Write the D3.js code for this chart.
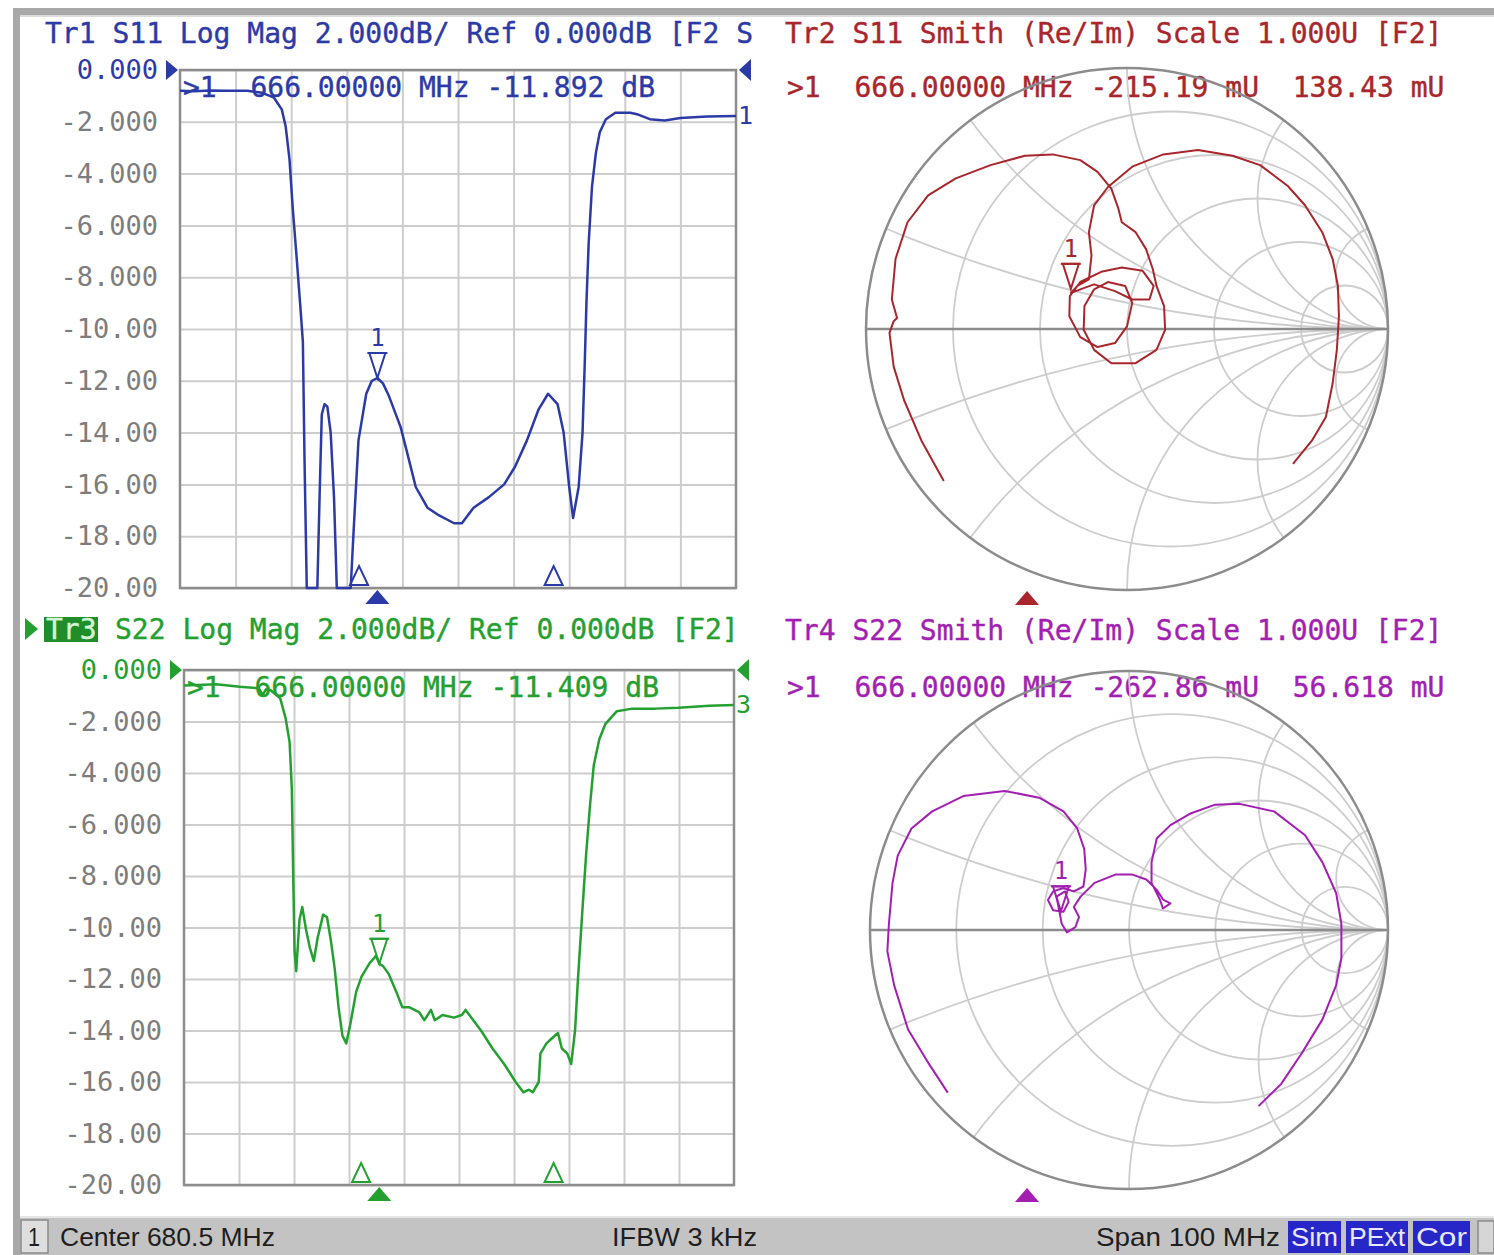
<!DOCTYPE html>
<html>
<head>
<meta charset="utf-8">
<script src="https://cdn.jsdelivr.net/npm/d3@7"></script>
<style>
  body { margin: 0; background: #fff; }
  #main-frame { width: 1494px; height: 1255px; }
  svg text { font-family: "DejaVu Sans Mono", monospace; }
</style>
</head>
<body>
<div id="main-frame"></div>
<script>
// channel settings
var centerMHz = 680.5;
var spanMHz = 100;
var ifbwLabel = "IFBW 3 kHz";
var statusFlags = ["Sim", "PExt", "Cor"];

var dbTicks = [0, -2, -4, -6, -8, -10, -12, -14, -16, -18, -20];
var dbTickLabels = ["0.000", "-2.000", "-4.000", "-6.000", "-8.000", "-10.00",
  "-12.00", "-14.00", "-16.00", "-18.00", "-20.00"];

var smithR = [0.2, 0.5, 1, 2, 5];
var smithX = [0.2, 0.5, 1, 2, 5];

// marker 1 and the two open reference markers
var markerFreq = 666.0;
var refMarkerFreqs = [662.7, 697.7];

// Tr1 S11 log mag
var tr1Freq = [630.5, 633.0, 636.0, 639.0, 642.6, 645.3, 647.4, 648.8, 649.5, 650.2, 650.8, 651.5,
  652.2, 652.6, 652.9, 653.3, 655.2, 655.6, 656.0, 656.5, 657.0, 657.6, 658.2, 658.7, 661.2,
  661.7, 662.6, 664.0, 665.0, 666.0, 667.0, 668.1, 670.2, 671.5, 672.9, 675.0, 677.1, 679.8,
  681.2, 683.3, 686.0, 688.8, 690.8, 692.9, 695.0, 696.7, 698.4, 699.5, 700.5, 701.2, 702.2,
  702.9, 703.3, 703.6, 704.0, 704.6, 705.3, 706.0, 707.1, 708.8, 711.5, 712.9, 715.0, 717.7,
  720.5, 725.3, 730.5];
var tr1Db = [-0.80, -0.82, -0.79, -0.80, -0.80, -0.88, -1.07, -1.52, -2.17, -3.46, -5.4, -7.3,
  -9.3, -10.5, -15.1, -21, -21, -16.5, -13.3, -12.9, -13.0, -14.0, -16.5, -21, -21,
  -17.9, -14.3, -12.5, -12.0, -11.892, -12.1, -12.6, -13.8, -14.9, -16.1, -16.9, -17.2, -17.5,
  -17.5, -16.9, -16.5, -16.0, -15.3, -14.3, -13.1, -12.5, -12.9, -14.0, -16.1, -17.3, -16.1,
  -14.0, -11.3, -9.0, -6.7, -4.5, -3.2, -2.4, -1.9, -1.65, -1.65, -1.72, -1.9, -1.95,
  -1.85, -1.8, -1.78];

// Tr3 S22 log mag
var tr3Freq = [630.5, 633.0, 636.4, 640.6, 644.1, 644.8, 645.4, 646.2, 648.0, 649.0, 649.7, 650.1,
  650.4, 650.6, 650.9, 651.5, 652.0, 652.7, 653.4, 654.1, 654.8, 655.8, 656.5, 657.2, 657.9,
  658.6, 659.3, 660.0, 660.7, 661.8, 662.8, 664.2, 665.4, 666.0, 666.7, 667.7, 669.1, 670.2,
  671.5, 673.3, 674.2, 675.4, 676.1, 677.5, 679.6, 681.0, 681.7, 683.1, 684.5, 686.6, 688.7,
  690.8, 692.2, 693.2, 693.9, 695.0, 695.3, 696.4, 697.4, 698.5, 699.2, 700.2, 700.9, 701.6,
  702.1, 702.7, 703.1, 703.6, 704.3, 705.0, 706.0, 707.1, 709.2, 712.0, 716.2, 720.4, 726.0,
  730.5];
var tr3Db = [-0.6, -0.58, -0.55, -0.65, -0.71, -0.97, -0.75, -0.78, -1.1, -1.9, -2.8, -4.6,
  -8.5, -10.9, -11.7, -9.7, -9.2, -10.1, -10.8, -11.3, -10.4, -9.5, -9.6, -10.5, -11.6,
  -13.1, -14.2, -14.5, -13.8, -12.5, -11.9, -11.4, -11.1, -11.409, -11.5, -11.8, -12.5, -13.1,
  -13.1, -13.3, -13.6, -13.2, -13.6, -13.4, -13.5, -13.4, -13.2, -13.6, -14.0, -14.7, -15.3,
  -16.0, -16.4, -16.3, -16.4, -16.0, -14.9, -14.5, -14.3, -14.1, -14.7, -14.9, -15.3, -14.0,
  -12.1, -10.1, -8.8, -7.2, -5.3, -3.7, -2.7, -2.1, -1.6, -1.5, -1.5, -1.47, -1.39,
  -1.36];

// Tr2 S11 smith (real / imag)
var tr2Re = [-0.702, -0.788, -0.854, -0.894, -0.910, -0.894, -0.881, -0.901, -0.887, -0.841, -0.762,
  -0.656, -0.523, -0.391, -0.285, -0.179, -0.113, -0.060, -0.033, -0.020, 0.033, 0.073, 0.099,
  0.113, 0.142, 0.146, 0.113, 0.033, -0.060, -0.126, -0.166, -0.163, -0.126, -0.073, -0.007,
  0.020, 0.000, -0.046, -0.113, -0.179, -0.221, -0.219, -0.179, -0.099, -0.020, 0.060, 0.102,
  0.086, 0.020, -0.046, -0.126, -0.179, -0.215, -0.190, -0.146, -0.136, -0.146, -0.126, -0.073,
  0.020, 0.139, 0.272, 0.404, 0.510, 0.616, 0.682, 0.748, 0.788, 0.808, 0.812, 0.804, 0.788,
  0.762, 0.709, 0.636];
var tr2Im = [-0.582, -0.427, -0.273, -0.144, -0.015, 0.030, 0.042, 0.113, 0.268, 0.409, 0.512,
  0.577, 0.628, 0.664, 0.669, 0.647, 0.602, 0.538, 0.461, 0.409, 0.371, 0.306, 0.229,
  0.165, 0.088, -0.003, -0.080, -0.131, -0.131, -0.080, -0.003, 0.088, 0.152, 0.180, 0.165,
  0.100, 0.010, -0.054, -0.069, -0.031, 0.049, 0.126, 0.180, 0.219, 0.236, 0.223, 0.165,
  0.113, 0.113, 0.145, 0.171, 0.152, 0.138, 0.165, 0.190, 0.281, 0.371, 0.474, 0.544,
  0.622, 0.669, 0.686, 0.664, 0.628, 0.548, 0.474, 0.371, 0.268, 0.165, 0.049, -0.080, -0.208,
  -0.337, -0.427, -0.517];
var tr2Marker = [-0.21519, 0.13843];

// Tr4 S22 smith (real / imag)
var tr4Re = [-0.700, -0.773, -0.853, -0.907, -0.933, -0.927, -0.913, -0.893, -0.840, -0.760, -0.640,
  -0.480, -0.347, -0.253, -0.200, -0.173, -0.167, -0.176, -0.213, -0.253, -0.293, -0.313, -0.293,
  -0.253, -0.233, -0.247, -0.280, -0.267, -0.260, -0.240, -0.207, -0.193, -0.213, -0.187, -0.133,
  -0.053, 0.013, 0.067, 0.107, 0.133, 0.160, 0.131, 0.120, 0.087, 0.087, 0.107, 0.160, 0.240,
  0.333, 0.427, 0.560, 0.680, 0.747, 0.800, 0.820, 0.820, 0.800, 0.747, 0.667, 0.587, 0.500];
var tr4Im = [-0.628, -0.516, -0.384, -0.213, -0.082, 0.024, 0.182, 0.287, 0.392, 0.458, 0.517,
  0.537, 0.511, 0.458, 0.392, 0.313, 0.234, 0.168, 0.149, 0.162, 0.149, 0.116, 0.076,
  0.070, 0.109, 0.149, 0.129, 0.063, 0.024, -0.009, 0.011, 0.050, 0.089, 0.129, 0.182,
  0.214, 0.214, 0.195, 0.155, 0.116, 0.103, 0.083, 0.116, 0.182, 0.261, 0.353, 0.405, 0.451,
  0.484, 0.487, 0.458, 0.366, 0.261, 0.142, 0.024, -0.108, -0.213, -0.345, -0.476, -0.595, -0.680];
var tr4Marker = [-0.26286, 0.056618];

var mainSVG;
var gridColor = "#cdcdcd";
var borderColor = "#8c8c8c";

function startMHz() { return centerMHz - spanMHz / 2; }
function stopMHz() { return centerMHz + spanMHz / 2; }

function addText(x, y, txt, color, size, anchor) {
  return mainSVG.append("text")
    .attr("x", x)
    .attr("y", y)
    .attr("fill", color)
    .attr("stroke", color)
    .attr("stroke-width", 0.4)
    .attr("font-size", size)
    .attr("text-anchor", anchor || "start")
    .style("white-space", "pre")
    .attr("xml:space", "preserve")
    .text(txt);
}

// open marker triangle pointing down, tip on the trace
function markerDown(g, x, y, color) {
  g.append("path")
    .attr("d", "M" + (x - 8) + "," + (y - 25) + "L" + (x + 8) + "," + (y - 25) + "L" + x + "," + y + "Z")
    .attr("fill", "none").attr("stroke", color).attr("stroke-width", 2);
  g.append("line")
    .attr("x1", x - 10).attr("x2", x + 10).attr("y1", y - 25).attr("y2", y - 25)
    .attr("stroke", color).attr("stroke-width", 2);
  g.append("text")
    .attr("x", x).attr("y", y - 32)
    .attr("text-anchor", "middle").attr("font-size", 24).attr("fill", color)
    .text("1");
}

function stimTriangle(x, y, color) {
  mainSVG.append("path")
    .attr("d", "M" + (x - 12) + "," + (y + 14) + "L" + (x + 12) + "," + (y + 14) + "L" + x + "," + y + "Z")
    .attr("fill", color);
}

function drawLogMag(p) {
  var x = d3.scaleLinear().domain([startMHz(), stopMHz()]).range([p.x0, p.x1]);
  var y = d3.scaleLinear().domain([-20, 0]).range([p.y1, p.y0]).clamp(true);
  var w = p.x1 - p.x0, h = p.y1 - p.y0;
  var g = mainSVG.append("g");

  var freqGrid = d3.range(1, 10).map(function(i) { return startMHz() + i * spanMHz / 10; });
  var xa = g.append("g")
    .attr("transform", "translate(0," + p.y1 + ")")
    .call(d3.axisBottom(x).tickValues(freqGrid).tickSize(-h).tickFormat(""));
  xa.select(".domain").remove();
  xa.selectAll("line").attr("stroke", gridColor).attr("stroke-width", 2);

  var ya = g.append("g")
    .attr("transform", "translate(" + p.x0 + ",0)")
    .call(d3.axisLeft(y).tickValues(dbTicks).tickSize(-w).tickPadding(22)
      .tickFormat(function(d, i) { return dbTickLabels[i]; }));
  ya.attr("font-size", 27).attr("font-family", "DejaVu Sans Mono");
  ya.select(".domain").remove();
  ya.selectAll("line").attr("stroke", gridColor).attr("stroke-width", 2);
  ya.selectAll("text").attr("fill", "#7d7d7d");
  ya.selectAll("text").filter(function(d) { return d === 0; }).attr("fill", p.color);

  g.append("rect")
    .attr("x", p.x0).attr("y", p.y0).attr("width", w).attr("height", h)
    .attr("fill", "none").attr("stroke", borderColor).attr("stroke-width", 2.5);

  // reference level arrows
  g.append("path")
    .attr("d", "M" + (p.x0 - 14) + "," + (p.y0 - 10) + "L" + (p.x0 - 2) + "," + p.y0 + "L" + (p.x0 - 14) + "," + (p.y0 + 10) + "Z")
    .attr("fill", p.color);
  g.append("path")
    .attr("d", "M" + (p.x1 + 15) + "," + (p.y0 - 11) + "L" + (p.x1 + 3) + "," + p.y0 + "L" + (p.x1 + 15) + "," + (p.y0 + 11) + "Z")
    .attr("fill", p.color);

  // readout under the trace
  addText(p.x0 + 3, p.y0 + 27, ">1  666.00000 MHz " + p.markerDb.toFixed(3) + " dB", p.color, 28);

  var line = d3.line()
    .x(function(d, i) { return x(p.freq[i]); })
    .y(function(d) { return y(d); });
  g.append("path")
    .datum(p.db)
    .attr("d", line)
    .attr("fill", "none")
    .attr("stroke", p.color)
    .attr("stroke-width", 2.5)
    .attr("stroke-linejoin", "round");

  // end-of-trace label
  var last = p.db[p.db.length - 1];
  g.append("text")
    .attr("x", p.x1 + 2).attr("y", y(last) + 8)
    .attr("font-size", 25).attr("fill", p.color)
    .text(p.traceNo);

  // open reference markers at the bottom
  refMarkerFreqs.forEach(function(f) {
    var mx = x(f);
    g.append("path")
      .attr("d", "M" + (mx - 9) + "," + (p.y1 - 3) + "L" + (mx + 9) + "," + (p.y1 - 3) + "L" + mx + "," + (p.y1 - 22) + "Z")
      .attr("fill", "none").attr("stroke", p.color).attr("stroke-width", 2);
  });

  markerDown(g, x(markerFreq), y(p.markerDb), p.color);
  stimTriangle(x(markerFreq), p.y1 + 2, p.color);
}

function drawSmith(p) {
  var sx = d3.scaleLinear().domain([-1, 1]).range([p.cx - p.R, p.cx + p.R]);
  var sy = d3.scaleLinear().domain([-1, 1]).range([p.cy + p.R, p.cy - p.R]);
  var g = mainSVG.append("g");

  mainSVG.append("defs").append("clipPath").attr("id", p.id + "-clip")
    .append("circle").attr("cx", p.cx).attr("cy", p.cy).attr("r", p.R);

  var grid = g.append("g").attr("clip-path", "url(#" + p.id + "-clip)");
  smithR.forEach(function(r) {
    grid.append("circle")
      .attr("cx", sx(r / (1 + r))).attr("cy", p.cy).attr("r", p.R / (1 + r))
      .attr("fill", "none").attr("stroke", gridColor).attr("stroke-width", 1.8);
  });
  smithX.forEach(function(xv) {
    [1, -1].forEach(function(sg) {
      grid.append("circle")
        .attr("cx", sx(1)).attr("cy", sy(sg / xv)).attr("r", p.R / xv)
        .attr("fill", "none").attr("stroke", gridColor).attr("stroke-width", 1.8);
    });
  });

  g.append("circle")
    .attr("cx", p.cx).attr("cy", p.cy).attr("r", p.R)
    .attr("fill", "none").attr("stroke", borderColor).attr("stroke-width", 2.5);
  g.append("line")
    .attr("x1", sx(-1)).attr("x2", sx(1)).attr("y1", p.cy).attr("y2", p.cy)
    .attr("stroke", borderColor).attr("stroke-width", 2.5);

  var line = d3.line()
    .x(function(d, i) { return sx(d); })
    .y(function(d, i) { return sy(p.im[i]); });
  g.append("path")
    .datum(p.re)
    .attr("d", line)
    .attr("fill", "none")
    .attr("stroke", p.color)
    .attr("stroke-width", 2)
    .attr("stroke-linejoin", "round");

  markerDown(g, sx(p.marker[0]), sy(p.marker[1]) - 4, p.color);

  var stim = d3.scaleLinear().domain([startMHz(), stopMHz()]).range([770, 1494]);
  stimTriangle(stim(markerFreq), p.stimY, p.color);
}

(function() {
  mainSVG = d3.select("#main-frame")
    .append("svg")
    .attr("width", 1494)
    .attr("height", 1255);

  mainSVG.append("rect").attr("width", 1494).attr("height", 1255).attr("fill", "#fff");

  // window frame
  mainSVG.append("rect").attr("x", 13).attr("y", 8).attr("width", 1481).attr("height", 7).attr("fill", "#a9a9a9");
  mainSVG.append("rect").attr("x", 13).attr("y", 8).attr("width", 7).attr("height", 1247).attr("fill", "#a9a9a9");
  mainSVG.append("rect").attr("x", 20).attr("y", 15).attr("width", 1474).attr("height", 2).attr("fill", "#dcdcdc");

  var c1 = "#2b3aa6", c2 = "#a8262c", c3 = "#24a030", c4 = "#a21fb2";

  // headers
  addText(45, 43, "Tr1 S11 Log Mag 2.000dB/ Ref 0.000dB [F2 S", c1, 28);
  addText(785, 43, "Tr2 S11 Smith (Re/Im) Scale 1.000U [F2]", c2, 28);
  addText(787, 97, ">1  666.00000 MHz -215.19 mU  138.43 mU", c2, 28);

  mainSVG.append("path").attr("d", "M25,618L38,629L25,640Z").attr("fill", c3);
  mainSVG.append("rect").attr("x", 44).attr("y", 617).attr("width", 54).attr("height", 25).attr("fill", "#1f8e2a");
  addText(46, 639, "Tr3", "#d4f2d4", 28);
  addText(115, 639, "S22 Log Mag 2.000dB/ Ref 0.000dB [F2]", c3, 28);
  addText(785, 640, "Tr4 S22 Smith (Re/Im) Scale 1.000U [F2]", c4, 28);
  addText(787, 697, ">1  666.00000 MHz -262.86 mU  56.618 mU", c4, 28);

  drawSmith({ id: "tr2", cx: 1127, cy: 329, R: 261, color: c2, re: tr2Re, im: tr2Im, marker: tr2Marker, stimY: 591 });
  drawSmith({ id: "tr4", cx: 1129, cy: 930, R: 259, color: c4, re: tr4Re, im: tr4Im, marker: tr4Marker, stimY: 1188 });

  drawLogMag({ x0: 180, x1: 736, y0: 70, y1: 588, color: c1, freq: tr1Freq, db: tr1Db, markerDb: -11.892, traceNo: "1" });
  drawLogMag({ x0: 184, x1: 734, y0: 670, y1: 1185, color: c3, freq: tr3Freq, db: tr3Db, markerDb: -11.409, traceNo: "3" });

  // status bar
  mainSVG.append("rect").attr("x", 20).attr("y", 1216).attr("width", 1474).attr("height", 39).attr("fill", "#c3c3c3");
  mainSVG.append("rect").attr("x", 20).attr("y", 1216).attr("width", 1474).attr("height", 2).attr("fill", "#e6e6e6");
  mainSVG.append("rect").attr("x", 21).attr("y", 1220).attr("width", 27).attr("height", 33)
    .attr("fill", "#dedede").attr("stroke", "#8a8a8a").attr("stroke-width", 1.5);

  var sbFont = "'Liberation Sans Narrow', 'Liberation Sans', Arial, sans-serif";
  function sbText(x, len, txt, color) {
    return mainSVG.append("text")
      .attr("x", x).attr("y", 1246)
      .attr("font-size", 25)
      .style("font-family", sbFont)
      .attr("fill", color || "#1e1e1e")
      .attr("textLength", len)
      .attr("lengthAdjust", "spacingAndGlyphs")
      .text(txt);
  }
  sbText(28, 12, "1");
  sbText(60, 215, "Center " + centerMHz + " MHz");
  sbText(612, 145, ifbwLabel);
  sbText(1096, 184, "Span " + spanMHz + " MHz");

  var flagX = [1288, 1346, 1413];
  var flagW = [53, 62, 57];
  statusFlags.forEach(function(f, i) {
    mainSVG.append("rect").attr("x", flagX[i]).attr("y", 1221).attr("width", flagW[i]).attr("height", 32).attr("fill", "#2727c8");
    sbText(flagX[i] + 3, flagW[i] - 6, f, "#e8e8ff");
  });
  mainSVG.append("rect").attr("x", 1478).attr("y", 1221).attr("width", 16).attr("height", 32)
    .attr("fill", "#d6d6d6").attr("stroke", "#8a8a8a").attr("stroke-width", 1.5);
})();
</script>
</body>
</html>
